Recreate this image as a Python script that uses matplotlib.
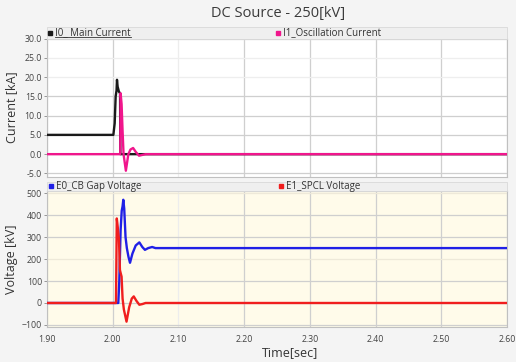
import numpy as np
import matplotlib
matplotlib.use('Agg')
import matplotlib.pyplot as plt
from matplotlib.patches import Rectangle
from matplotlib.lines import Line2D

plt.rcParams['font.family'] = ['Open Sans', 'DejaVu Sans']

# --- data ---
t_i0 = [1.90, 2.0010, 2.0030, 2.0045, 2.0058, 2.0065, 2.0075, 2.0095, 2.0112, 2.0116, 2.60]
i0 = [5.0, 5.0, 8.0, 15.0, 16.5, 19.3, 17.5, 16.2, 15.8, 0.0, 0.0]

t_i1 = [1.90, 2.0115, 2.0120, 2.0135, 2.0150, 2.0165, 2.0200, 2.0238, 2.0270, 2.0310,
        2.0350, 2.0400, 2.0450, 2.0500, 2.60]
i1 = [0.0, 0.0, 15.8, 13.0, 6.0, 0.0, -4.3, 0.0, 1.2, 1.6, 0.6, -0.4, -0.2, 0.0, 0.0]

t_e0 = [1.90, 2.0085, 2.0100, 2.0120, 2.0137, 2.0150, 2.0161, 2.0175, 2.0195, 2.0215,
        2.0240, 2.0263, 2.0300, 2.0350, 2.0405, 2.0450, 2.0490, 2.0540, 2.0600, 2.0650, 2.60]
e0 = [0, 0, 100, 330, 420, 440, 470, 430, 300, 250, 210, 183, 225, 262, 276, 255, 242,
      250, 255, 250, 250]

t_e1 = [1.90, 2.0050, 2.0062, 2.0075, 2.0095, 2.0110, 2.0122, 2.0135, 2.0150, 2.0170,
        2.0210, 2.0250, 2.0290, 2.0320, 2.0360, 2.0405, 2.0450, 2.0500, 2.60]
e1 = [0, 0, 385, 350, 290, 150, 135, 120, 20, -30, -85, -20, 20, 30, 10, -8, -5, 0, 0]

x_ticks = [1.90, 2.00, 2.10, 2.20, 2.30, 2.40, 2.50, 2.60]
i_ticks = [30, 25, 20, 15, 10, 5, 0, -5]
v_ticks = [500, 400, 300, 200, 100, 0, -100]

fig = plt.figure(figsize=(5.16, 3.62), dpi=100, facecolor='#f4f4f4')
ax1 = fig.add_axes([0.091, 0.5124, 0.892, 0.3812], facecolor='white')
ax2 = fig.add_axes([0.091, 0.0975, 0.892, 0.3749], facecolor='#fffbea')

grid_c = '#cfcfcf'
for ax in (ax1, ax2):
    ax.set_xlim(1.90, 2.60)
    ax.set_xticks(x_ticks)
    ax.grid(True, color=grid_c, linewidth=0.9)
    ax.set_axisbelow(True)
    for s in ax.spines.values():
        s.set_color('#c0c0c0')
        s.set_linewidth(0.8)
    ax.tick_params(axis='y', labelsize=6.3, length=2.5, width=0.6, color='#888888',
                   pad=1, labelcolor='#444444')
    ax.tick_params(axis='x', labelsize=6.3, length=0, pad=6, labelcolor='#444444')
    # the 2.10 line is barely visible in the reference
    ax.get_xgridlines()[2].set_color('#ededed')

ax1.plot(t_i0, i0, color='#1a1a1a', linewidth=1.7, zorder=3)
ax1.plot(t_i1, i1, color='#f0168c', linewidth=1.7, zorder=4)
ax1.set_ylim(-5.8, 30)
ax1.set_yticks(i_ticks)
ax1.set_yticklabels(['%.1f' % v for v in i_ticks])
ax1.tick_params(axis='x', labelbottom=False)
for g, v in zip(ax1.get_ygridlines(), i_ticks):
    if v in (25, 20, 30):
        g.set_color('#eeeeee')
ax1.set_ylabel('Current [kA]', fontsize=9, color='#333333')
ax1.yaxis.set_label_coords(-0.062, 0.5)

ax2.plot(t_e0, e0, color='#2020e6', linewidth=1.7, zorder=3)
ax2.plot(t_e1, e1, color='#f01e1e', linewidth=1.7, zorder=4)
ax2.set_ylim(-108, 510)
ax2.set_yticks(v_ticks)
ax2.set_xticklabels(['%.2f' % v for v in x_ticks])
for g, v in zip(ax2.get_ygridlines(), v_ticks):
    if v in (200, 500):
        g.set_color('#eee9d9')
ax2.set_ylabel('Voltage [kV]', fontsize=9, color='#333333')
ax2.yaxis.set_label_coords(-0.062, 0.5)
ax2.set_xlabel('Time[sec]', fontsize=9, color='#333333')
ax2.xaxis.set_label_coords(0.528, -0.145)

fig.text(0.539, 0.963, 'DC Source - 250[kV]', ha='center', va='center',
         fontsize=10.5, color='#3a3a3a')

# legend strips above each panel
for y0, h in [(0.8936, 0.0318), (0.4724, 0.0257)]:
    fig.patches.append(Rectangle((0.091, y0), 0.892, h, transform=fig.transFigure,
                                 facecolor='#efefef', edgecolor='#d8d8d8', linewidth=0.6))

legend_items = [
    (0.097, 0.910, '#1a1a1a', 'I0_ Main Current'),
    (0.538, 0.910, '#f0168c', 'I1_Oscillation Current'),
    (0.099, 0.486, '#2020e6', 'E0_CB Gap Voltage'),
    (0.545, 0.486, '#f01e1e', 'E1_SPCL Voltage'),
]
for x, y, c, label in legend_items:
    fig.lines.append(Line2D([x], [y], marker='s', markersize=3.4, color=c,
                            transform=fig.transFigure))
    fig.text(x + 0.010, y, label, ha='left', va='center', fontsize=7, color='#333333')

# first entry is underlined (selected series)
fig.lines.append(Line2D([0.107, 0.254], [0.8975, 0.8975], color='#333333', linewidth=0.6,
                        transform=fig.transFigure))

fig.savefig('out.png', dpi=100, facecolor=fig.get_facecolor())
